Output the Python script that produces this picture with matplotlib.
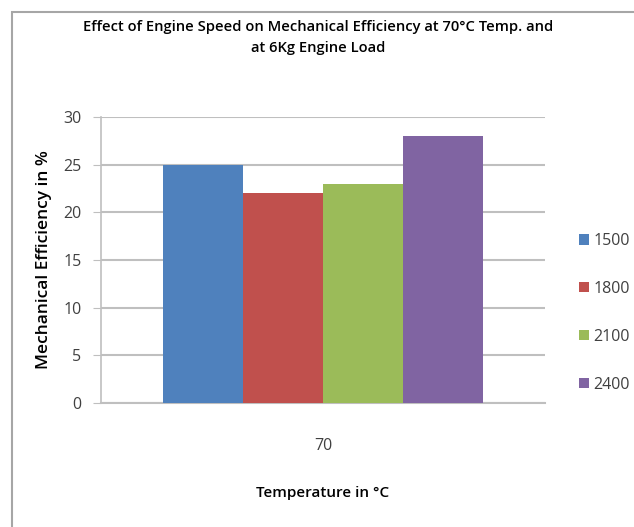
import matplotlib.pyplot as plt
from matplotlib.patches import Rectangle

plt.rcParams['font.family'] = ['Open Sans', 'DejaVu Sans']

# Data
speeds = ['1500', '1800', '2100', '2400']
efficiency = [25, 22, 23, 28]
colors = ['#4F81BD', '#C0504D', '#9BBB59', '#8064A2']
temperature = '70'
y_ticks = [0, 5, 10, 15, 20, 25, 30]

fig = plt.figure(figsize=(6.34, 5.27), dpi=100)
W, H = 634, 527

# chart frame
fig.patches.append(Rectangle((12 / W, -0.1), 1.2, (1 - 12 / H) + 0.1,
                             transform=fig.transFigure, fill=False,
                             edgecolor='#A6A6A6', linewidth=1.5))

ax = fig.add_axes([101 / W, 1 - 403 / H, 444 / W, (403 - 117) / H])

width = 0.18
offsets = [-1.5 * width, -0.5 * width, 0.5 * width, 1.5 * width]
bars = []
for off, val, col, lab in zip(offsets, efficiency, colors, speeds):
    b = ax.bar(off, val, width=width, color=col, label=lab, zorder=3)
    bars.append(b)

ax.set_xlim(-0.5, 0.5)
ax.set_ylim(0, 30)
ax.set_yticks(y_ticks)
ax.set_xticks([0])
ax.set_xticklabels([temperature])
ax.yaxis.grid(True, color='#BFBFBF', linewidth=1.5, zorder=0)
ax.set_axisbelow(True)

for s in ['top', 'right']:
    ax.spines[s].set_visible(False)
ax.spines['left'].set_color('#BFBFBF')
ax.spines['bottom'].set_color('#BFBFBF')
ax.spines['left'].set_linewidth(1.2)
ax.spines['bottom'].set_linewidth(1.5)
ax.tick_params(axis='y', length=6, color='#BFBFBF', labelsize=11.5, pad=8,
               labelcolor='#404040')
ax.tick_params(axis='x', length=0, labelsize=11.5, pad=25, labelcolor='#404040')

ax.set_ylabel('Mechanical Efficiency in %', fontsize=12.5, fontweight='semibold',
              labelpad=8)
ax.set_xlabel('Temperature in °C', fontsize=11, fontweight='semibold',
              labelpad=23)

fig.text(0.502, 1 - 27 / H, 'Effect of Engine Speed on Mechanical Efficiency at 70°C Temp. and',
         ha='center', va='center', fontsize=10.6, fontweight='semibold')
fig.text(0.502, 1 - 48 / H, 'at 6Kg Engine Load',
         ha='center', va='center', fontsize=10.6, fontweight='semibold')

fig.legend(handles=bars, labels=speeds, loc='center left',
           bbox_to_anchor=(565 / W, 1 - 313 / H), frameon=False,
           fontsize=11.5, handlelength=0.6, handleheight=0.6,
           handletextpad=0.3, labelspacing=2.0, labelcolor='#404040')

fig.savefig('out.png', dpi=100)
